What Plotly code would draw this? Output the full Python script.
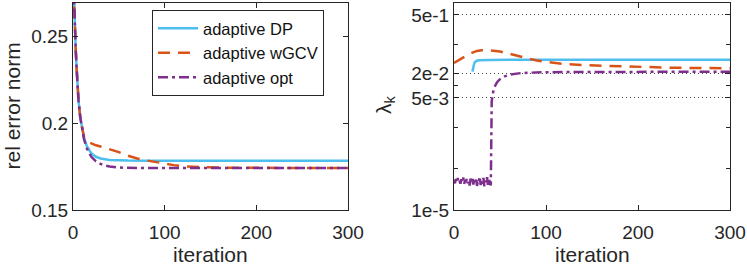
import plotly.graph_objects as go

# ---------------- data: left panel (relative error norm) ----------------
err_dp_iter = [0, 1, 2, 3, 4, 5, 6, 8, 10, 12, 15, 18, 20, 25, 30, 40, 50, 60, 80, 100, 150, 200, 250, 300]
err_dp = [0.290, 0.268, 0.254, 0.242, 0.231, 0.221, 0.213, 0.203, 0.1965, 0.1915, 0.1868, 0.1840, 0.1826,
          0.1806, 0.1796, 0.1788, 0.1785, 0.1784, 0.1783, 0.1783, 0.1783, 0.1783, 0.1783, 0.1783]

err_wgcv_iter = [0, 1, 2, 3, 4, 5, 6, 8, 10, 12, 15, 20, 25, 30, 40, 50, 60, 70, 80, 90, 100, 110, 120,
                 140, 170, 200, 250, 300]
err_wgcv = [0.290, 0.268, 0.254, 0.242, 0.231, 0.221, 0.213, 0.203, 0.1965, 0.1920, 0.1895, 0.1882, 0.1872,
            0.1865, 0.1850, 0.1833, 0.1812, 0.1796, 0.1785, 0.1775, 0.1766, 0.1758, 0.1752, 0.1746,
            0.1743, 0.1742, 0.1741, 0.1741]

err_opt_iter = [0, 1, 2, 3, 4, 5, 6, 8, 10, 12, 15, 18, 20, 25, 30, 35, 40, 50, 60, 80, 100, 150, 200, 250, 300]
err_opt = [0.290, 0.268, 0.254, 0.242, 0.231, 0.221, 0.213, 0.203, 0.1962, 0.1908, 0.1855, 0.1822, 0.1806,
           0.1780, 0.1765, 0.1756, 0.1750, 0.1744, 0.1742, 0.1741, 0.1741, 0.1741, 0.1741, 0.1741, 0.1741]

# ---------------- data: right panel (lambda_k) ----------------
lam_dp_iter = [20, 21, 22, 23, 24, 25, 27, 30, 35, 40, 60, 100, 200, 300]
lam_dp = [0.0216, 0.029, 0.034, 0.037, 0.0385, 0.0395, 0.0405, 0.041, 0.0413, 0.0414, 0.0415, 0.0415,
          0.0415, 0.0415]

lam_wgcv_iter = [0, 5, 10, 15, 20, 25, 30, 35, 40, 50, 60, 70, 80, 90, 100, 120, 140, 160, 180, 200,
                 230, 260, 300]
lam_wgcv = [0.035, 0.041, 0.048, 0.055, 0.062, 0.068, 0.071, 0.0715, 0.070, 0.066, 0.058, 0.051, 0.045,
            0.040, 0.037, 0.033, 0.031, 0.030, 0.029, 0.028, 0.027, 0.0265, 0.026]

lam_opt_iter = list(range(0, 41)) + [41, 42, 43, 44, 45, 47, 50, 55, 60, 70, 80, 100, 150, 200, 300]
lam_opt = [5.2e-5, 4.4e-5, 5.6e-5, 4.8e-5, 5.9e-5, 4.6e-5, 5.1e-5, 4.3e-5, 5.5e-5, 4.9e-5, 6.1e-5,
           4.2e-5, 5.3e-5, 4.7e-5, 5.8e-5, 4.4e-5, 5.0e-5, 3.9e-5, 5.7e-5, 4.5e-5, 6.3e-5, 4.1e-5,
           5.4e-5, 4.6e-5, 6.0e-5, 3.8e-5, 5.2e-5, 4.8e-5, 6.4e-5, 4.0e-5, 5.5e-5, 4.3e-5, 5.9e-5,
           3.7e-5, 5.1e-5, 4.6e-5, 6.2e-5, 3.6e-5, 5.6e-5, 4.2e-5, 3.9e-5,
           0.0042, 0.0063, 0.0079, 0.0092, 0.0104, 0.0122, 0.0142, 0.0166, 0.0181, 0.0196, 0.0203,
           0.0209, 0.0212, 0.0214, 0.0215]

x_ticks = [0, 100, 200, 300]
err_ticks = [0.15, 0.2, 0.25]
err_ticktext = ["0.15", "0.2", "0.25"]
lam_ticks = [1e-5, 5e-3, 2e-2, 5e-1]
lam_ticktext = ["1e-5", "5e-3", "2e-2", "5e-1"]
lam_minor = [1e-4, 1e-3, 1e-2, 1e-1]

names = ["adaptive DP", "adaptive wGCV", "adaptive opt"]
colors = ["#4DBEEE", "#D95319", "#7E2F8E"]
dashes = ["solid", "12px,8px", "10px,4px,3px,4px"]

W, H = 747, 266
FONT = "Liberation Sans, Arial, Helvetica, sans-serif"
AX = "#262626"

fig = go.Figure()
left = [(err_dp_iter, err_dp), (err_wgcv_iter, err_wgcv), (err_opt_iter, err_opt)]
right = [(lam_dp_iter, lam_dp), (lam_wgcv_iter, lam_wgcv), (lam_opt_iter, lam_opt)]
for i, (xs, ys) in enumerate(left):
    fig.add_trace(go.Scatter(x=xs, y=ys, mode="lines", name=names[i],
                             line=dict(color=colors[i], width=2.5, dash=dashes[i]),
                             xaxis="x", yaxis="y"))
for i, (xs, ys) in enumerate(right):
    fig.add_trace(go.Scatter(x=xs, y=ys, mode="lines", name=names[i], showlegend=False,
                             line=dict(color=colors[i], width=2.5, dash=dashes[i]),
                             xaxis="x2", yaxis="y2"))

ydom = [1 - 210 / H, 1 - 2.5 / H]
common = dict(showline=True, linecolor=AX, linewidth=1, mirror="ticks", ticks="inside",
              ticklen=5, tickcolor=AX, tickwidth=1, showgrid=False, zeroline=False,
              tickfont=dict(family=FONT, size=19, color=AX), automargin=False)
xcommon = dict(common, ticklabelstandoff=5)

fig.update_layout(
    width=W, height=H, margin=dict(l=0, r=0, t=0, b=0),
    paper_bgcolor="white", plot_bgcolor="white", template="none",
    font=dict(family=FONT, color=AX),
    xaxis=dict(domain=[73 / W, 348 / W], range=[0, 300], tickvals=x_ticks, anchor="y", **xcommon),
    yaxis=dict(domain=ydom, range=[0.15, 0.2693], tickvals=err_ticks, ticktext=err_ticktext,
               anchor="x", **common),
    xaxis2=dict(domain=[454 / W, 730 / W], range=[0, 300], tickvals=x_ticks, anchor="y2", **xcommon),
    yaxis2=dict(domain=ydom, type="log", range=[-5, 0], tickvals=lam_ticks, ticktext=lam_ticktext,
                anchor="x2",
                minor=dict(tickvals=lam_minor, ticks="inside", ticklen=4, tickcolor=AX, showgrid=False),
                **{**common, "showgrid": True}, gridcolor="#444444", griddash="1px,3px", gridwidth=1),
    legend=dict(x=152 / W, y=1 - 10 / H, xanchor="left", yanchor="top", bgcolor="white",
                bordercolor=AX, borderwidth=1, font=dict(family=FONT, size=16.5, color="#111111"),
                tracegroupgap=0, itemwidth=40),
    showlegend=True,
)

ann_font = dict(family=FONT, size=21, color=AX)
fig.add_annotation(text="rel error norm", x=12 / W, y=1 - 106.5 / H, xref="paper", yref="paper",
                   textangle=-90, showarrow=False, font=ann_font, xanchor="center", yanchor="middle")
fig.add_annotation(text="λ<sub>k</sub>", x=385 / W, y=1 - 105 / H, xref="paper", yref="paper",
                   textangle=-90, showarrow=False, font=ann_font, xanchor="center", yanchor="middle")
fig.add_annotation(text="iteration", x=210 / W, y=1 - 254 / H, xref="paper", yref="paper",
                   showarrow=False, font=ann_font, xanchor="center", yanchor="middle")
fig.add_annotation(text="iteration", x=592 / W, y=1 - 254 / H, xref="paper", yref="paper",
                   showarrow=False, font=ann_font, xanchor="center", yanchor="middle")

fig.write_html("out.html", config={"displayModeBar": False},
               post_script="document.body.style.margin='0';document.body.style.padding='0';"
                           "document.body.style.overflow='hidden';")
